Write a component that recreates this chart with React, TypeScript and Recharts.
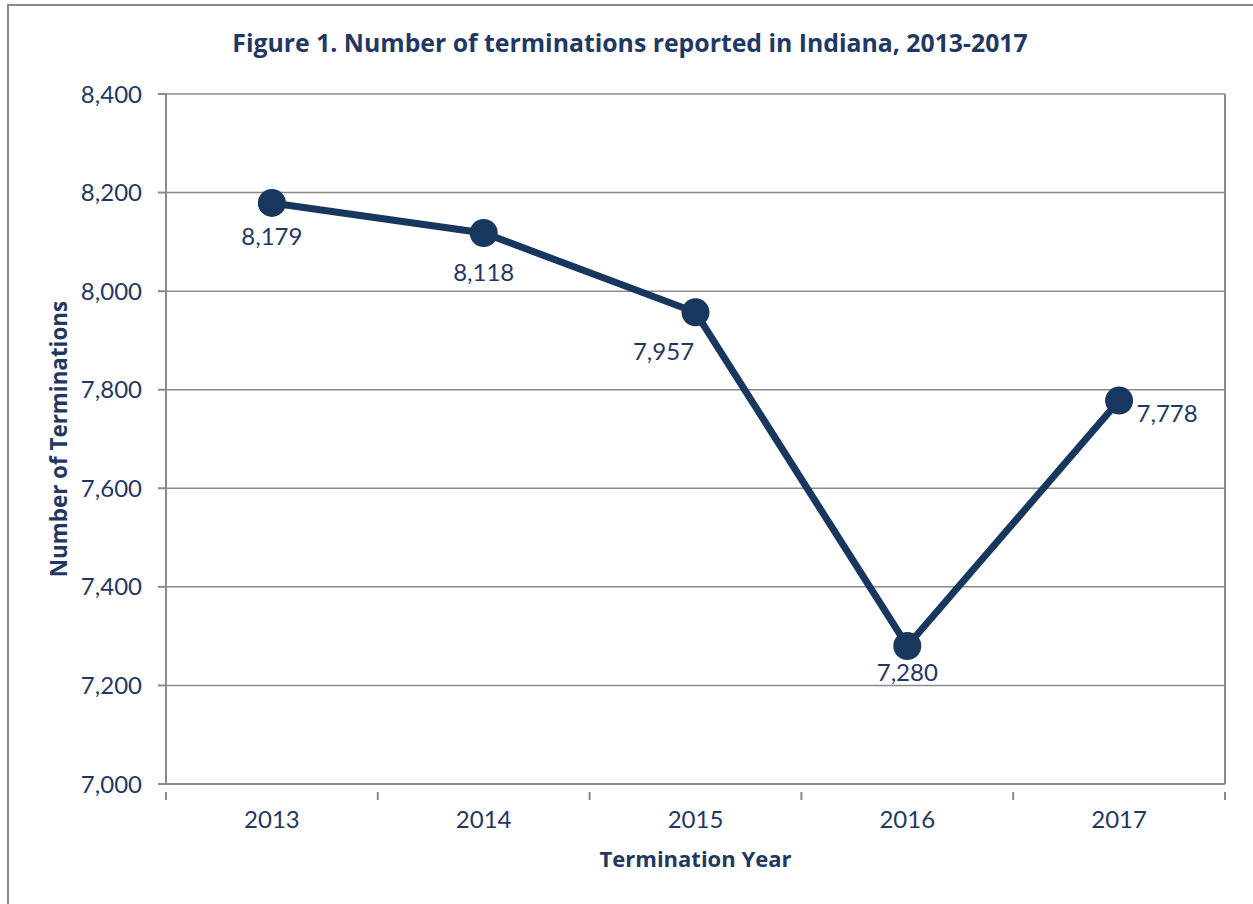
import { LineChart, Line, XAxis, YAxis, CartesianGrid, ReferenceLine } from "recharts";

const YEARS = [2013, 2014, 2015, 2016, 2017];
const TERMINATIONS = [8179, 8118, 7957, 7280, 7778];
const Y_TICKS = [7000, 7200, 7400, 7600, 7800, 8000, 8200, 8400];
const X_TICKS = [2012.5, 2013, 2013.5, 2014, 2014.5, 2015, 2015.5, 2016, 2016.5, 2017, 2017.5];

// where each data label sits relative to its point
const LABEL_OFFSETS = [
  { dx: 0, dy: 42 },
  { dx: 0, dy: 48 },
  { dx: -32, dy: 48 },
  { dx: 0, dy: 35 },
  { dx: 48, dy: 21 },
];

const data = YEARS.map((year, i) => ({ year, value: TERMINATIONS[i] }));

const NAVY = "#17375e";
const TEXT = "#1f3864";
const GRAY = "#8a8a8a";
const FONT = "Lato, 'Open Sans', sans-serif";
const BOLD_FONT = "'Open Sans', Lato, sans-serif";

const fmt = (v: number) => v.toLocaleString("en-US");

function XTick(props: any) {
  const { x, y, payload } = props;
  const v = payload.value as number;
  if (Number.isInteger(v)) {
    return (
      <text x={x} y={y + 36} textAnchor="middle" fill={TEXT} fontSize={24} fontFamily={FONT}>
        {v}
      </text>
    );
  }
  return <line x1={x} x2={x} y1={y} y2={y + 8} stroke={GRAY} strokeWidth={2} />;
}

function DataLabel(props: any) {
  const { x, y, value, index } = props;
  const off = LABEL_OFFSETS[index] || { dx: 0, dy: 40 };
  return (
    <text x={x + off.dx} y={y + off.dy} textAnchor="middle" fill={TEXT} fontSize={24} fontFamily={FONT}>
      {fmt(value)}
    </text>
  );
}

export default function App() {
  return (
    <div style={{ position: "fixed", left: 0, top: 0, width: 1253, height: 904, overflow: "hidden", background: "#fff" }}>
      <div style={{
        position: "absolute", left: 7, top: 4, width: 1400, height: 1000,
        borderLeft: `2px solid ${GRAY}`, borderTop: `2px solid ${GRAY}`,
      }} />
      <div style={{
        position: "absolute", left: 7, width: 1246, top: 25, textAlign: "center",
        fontFamily: BOLD_FONT, fontWeight: 700, fontSize: 24.8, color: TEXT,
      }}>
        Figure 1. Number of terminations reported in Indiana, 2013-2017
      </div>
      <div style={{
        position: "absolute", left: 166, width: 1059, top: 843, textAlign: "center",
        fontFamily: BOLD_FONT, fontWeight: 700, fontSize: 22, color: TEXT,
      }}>
        Termination Year
      </div>
      <div style={{
        position: "absolute", left: 58, top: 439, transform: "translate(-50%, -50%) rotate(-90deg)",
        whiteSpace: "nowrap", fontFamily: BOLD_FONT, fontWeight: 700, fontSize: 22.4, color: TEXT,
      }}>
        Number of Terminations
      </div>
      <div style={{ position: "absolute", left: 0, top: 0 }}>
        <LineChart width={1253} height={904} data={data} margin={{ top: 94, right: 28, left: 0, bottom: 80 }}>
          <CartesianGrid vertical={false} stroke={GRAY} strokeWidth={1.5} />
          <XAxis
            dataKey="year"
            type="number"
            domain={[2012.5, 2017.5]}
            ticks={X_TICKS}
            interval={0}
            height={40}
            tickLine={false}
            axisLine={{ stroke: GRAY, strokeWidth: 2 }}
            tick={<XTick />}
          />
          <YAxis
            domain={[7000, 8400]}
            ticks={Y_TICKS}
            width={166}
            interval={0}
            tickFormatter={fmt}
            tickSize={8}
            tickMargin={16}
            axisLine={{ stroke: GRAY, strokeWidth: 2 }}
            tickLine={{ stroke: GRAY, strokeWidth: 2 }}
            tick={{ fill: TEXT, fontSize: 24, fontFamily: FONT }}
          />
          <ReferenceLine x={2017.5} stroke={GRAY} strokeWidth={2} />
          <Line
            dataKey="value"
            stroke={NAVY}
            strokeWidth={7}
            dot={{ r: 14, fill: NAVY, stroke: NAVY, strokeWidth: 0 }}
            activeDot={false}
            label={<DataLabel />}
            isAnimationActive={false}
          />
        </LineChart>
      </div>
    </div>
  );
}
